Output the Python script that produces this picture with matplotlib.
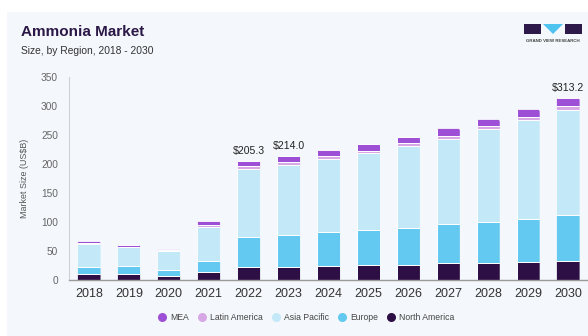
import matplotlib
matplotlib.use("Agg")
import matplotlib.pyplot as plt
from matplotlib.patches import FancyBboxPatch, Rectangle, Polygon
from matplotlib.lines import Line2D
import numpy as np

plt.rcParams['font.family'] = ['Liberation Sans', 'DejaVu Sans']

years = ["2018", "2019", "2020", "2021", "2022", "2023", "2024",
         "2025", "2026", "2027", "2028", "2029", "2030"]
north_america = [10.0, 11.0, 7.0, 14.0, 22.0, 23.0, 24.0, 25.0, 26.4, 28.7, 29.8, 31.6, 33.3]
europe = [12.0, 13.2, 10.9, 18.9, 52.8, 55.0, 57.9, 60.8, 63.6, 67.1, 70.6, 74.0, 79.1]
asia_pacific = [40.2, 32.1, 32.1, 59.1, 115.9, 119.4, 126.3, 132.0, 140.0, 147.2, 158.9, 169.2, 180.2]
latin_america = [1.7, 1.2, 1.1, 2.2, 5.5, 5.6, 4.5, 5.0, 5.0, 5.4, 5.2, 5.2, 6.9]
mea = [2.8, 2.8, 1.8, 7.0, 9.1, 11.0, 10.9, 11.6, 12.0, 12.6, 12.0, 13.7, 13.7]
labelled_years = ["2022", "2023", "2030"]

series = [
    ("North America", north_america, "#2d0f45"),
    ("Europe", europe, "#63c9f0"),
    ("Asia Pacific", asia_pacific, "#c3e9f8"),
    ("Latin America", latin_america, "#d7a8e6"),
    ("MEA", mea, "#9d4fd6"),
]

bg = "#f4f7fb"
fig = plt.figure(figsize=(5.88, 3.36), dpi=100)
fig.patch.set_facecolor("white")
# card background
fig.patches.append(Rectangle((7 / 588, 0), 1, 1 - 12 / 336, transform=fig.transFigure,
                             facecolor=bg, edgecolor="none", zorder=-10))

ax = fig.add_axes([69 / 588, 1 - 280 / 336, 1 - 69 / 588, (280 - 76.7) / 336])
ax.set_facecolor(bg)
ax.patch.set_alpha(0)

x = np.arange(len(years))
width = 0.58
ax.set_xlim(-0.5, 12.5)
ax.set_ylim(0, 350)

# data units per pixel, for rounded bar tops
fig.canvas.draw()
p0 = ax.transData.transform((0, 0))
p1 = ax.transData.transform((1, 1))
ux = 1 / (p1[0] - p0[0])
uy = 1 / (p1[1] - p0[1])
r_px = 2.5

totals = np.zeros(len(years))
for _, vals, _ in series:
    totals += np.array(vals)

clips = []
for i in range(len(years)):
    cp = FancyBboxPatch((x[i] - width / 2, -10), width, totals[i] + 10,
                        boxstyle=f"round,pad=0,rounding_size={r_px * ux}",
                        mutation_aspect=uy / ux, transform=ax.transData,
                        facecolor="none", edgecolor="none")
    ax.add_patch(cp)
    clips.append(cp)

bottom = np.zeros(len(years))
for name, vals, color in series:
    bars = ax.bar(x, vals, width, bottom=bottom, color=color,
                  edgecolor="white", linewidth=0.7, label=name, zorder=3)
    for b, cp in zip(bars, clips):
        b.set_clip_path(cp)
    bottom += np.array(vals)

for i, yr in enumerate(years):
    if yr in labelled_years:
        ax.annotate(f"${totals[i]:.1f}", (x[i], totals[i]), xytext=(0, 5),
                    textcoords="offset pixels", ha="center", va="bottom",
                    fontsize=7.6, color="#222222")

ax.set_xticks(x)
ax.set_xticklabels(years, fontsize=9, color="#333333")
ax.set_yticks(np.arange(0, 351, 50))
ax.tick_params(axis="y", labelsize=7.3, labelcolor="#666666", length=0, pad=8)
ax.tick_params(axis="x", length=0, pad=6)
for s in ("top", "right"):
    ax.spines[s].set_visible(False)
ax.spines["left"].set_color("#cfd3d8")
ax.spines["left"].set_linewidth(0.8)
ax.spines["bottom"].set_color("#9a9a9a")
ax.spines["bottom"].set_linewidth(1.0)
ax.spines["bottom"].set_zorder(5)

fig.text(25 / 588, 1 - 178 / 336, "Market Size (US$B)", rotation=90, ha="center",
         va="center", fontsize=6.4, color="#555555")

fig.text(21 / 588, 1 - 36 / 336, "Ammonia Market", fontsize=11, fontweight="bold",
         color="#2b1846", ha="left", va="baseline")
fig.text(21 / 588, 1 - 54 / 336, "Size, by Region, 2018 - 2030", fontsize=7.4,
         color="#333333", ha="left", va="baseline")

# logo
def fig_rect(x0, y0, w, h, color):
    fig.patches.append(Rectangle((x0 / 588, 1 - (y0 + h) / 336), w / 588, h / 336,
                                 transform=fig.transFigure, facecolor=color,
                                 edgecolor="none", zorder=5))

fig_rect(524, 24, 17, 10, "#2d1a4a")
fig_rect(565, 24, 17, 10, "#2d1a4a")
fig.patches.append(Polygon([(543 / 588, 1 - 24 / 336), (563 / 588, 1 - 24 / 336),
                            (553 / 588, 1 - 34 / 336)], closed=True,
                           transform=fig.transFigure, facecolor="#4fc3f0",
                           edgecolor="none", zorder=5))
fig.text(553 / 588, 1 - 41 / 336, "GRAND VIEW RESEARCH", fontsize=3.2,
         color="#444444", ha="center", va="center", fontweight="bold")

# legend
order = ["MEA", "Latin America", "Asia Pacific", "Europe", "North America"]
cmap = {n: c for n, _, c in series}
handles = [Line2D([0], [0], marker="o", linestyle="none", markersize=6.5,
                  markerfacecolor=cmap[n], markeredgecolor="none") for n in order]
fig.legend(handles, order, loc="center", bbox_to_anchor=(306 / 588, 1 - 318 / 336),
           ncol=5, frameon=False, fontsize=6.2, labelcolor="#444444",
           handletextpad=0.45, columnspacing=1.0, handlelength=1.0)

fig.savefig("out.png", dpi=100, facecolor=fig.get_facecolor())
